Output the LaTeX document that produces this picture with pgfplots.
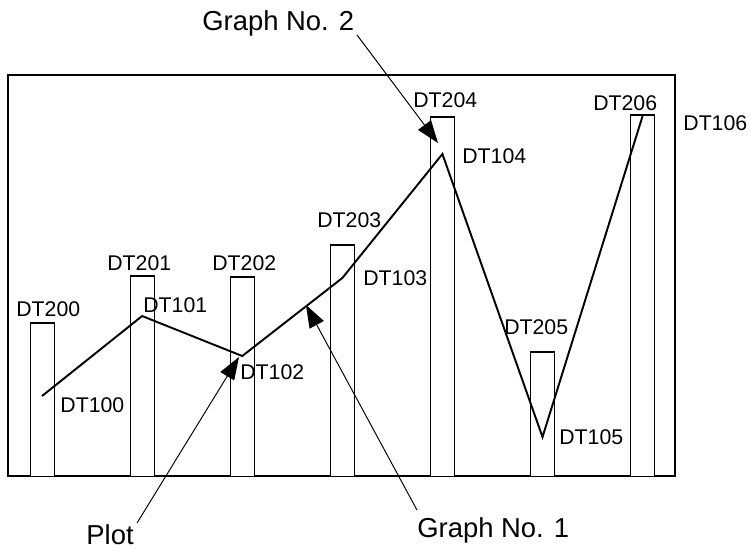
\documentclass[border=0pt]{standalone}
\usepackage{fontspec}
\setmainfont{Liberation Sans}
\usepackage{pgfplots}
\pgfplotsset{compat=1.18}
\usetikzlibrary{arrows.meta}

% bar heights (DT200..DT206) and plotted line (DT100..DT106)
\pgfplotstableread{
x  bar  pt
0  153  80
1  200  160
2  199  120
3  231  198
4  359  322
5  124  39
6  361  360
}\chartdata

\begin{document}
\begin{tikzpicture}[
  dtlab/.style={anchor=base west, inner sep=0pt, font=\fontsize{12.1}{14}\selectfont},
  annlab/.style={anchor=base west, inner sep=0pt, font=\fontsize{15.6}{18}\selectfont},
  pointer/.style={line width=0.55pt, -{Triangle[length=0.45cm,width=0.32cm]}},
]
\begin{axis}[
  scale only axis,
  width=13.34cm, height=8.02cm,
  xmin=-0.340, xmax=6.324,
  ymin=0, ymax=401,
  xtick=\empty, ytick=\empty,
  axis line style={line width=1.1pt},
  clip=false,
]
% keep the whole page at the reference's proportions
\path (axis cs:-0.420,476) rectangle (axis cs:7.073,-73);

\addplot[ybar, bar width=0.24, fill=white, draw=black, line width=0.6pt]
  table[x=x, y=bar] {\chartdata};
\addplot[black, line width=1.1pt, mark=none, sharp plot]
  table[x=x, y=pt] {\chartdata};

% bar labels
\node[dtlab] at (axis cs:-0.260,160) {DT200};
\node[dtlab] at (axis cs:0.649,206) {DT201};
\node[dtlab] at (axis cs:1.698,206) {DT202};
\node[dtlab] at (axis cs:2.747,249) {DT203};
\node[dtlab] at (axis cs:3.706,369) {DT204};
\node[dtlab] at (axis cs:4.615,142) {DT205};
\node[dtlab] at (axis cs:5.504,366) {DT206};
% point labels
\node[dtlab] at (axis cs:0.180,64) {DT100};
\node[dtlab] at (axis cs:1.009,164) {DT101};
\node[dtlab] at (axis cs:1.978,97) {DT102};
\node[dtlab] at (axis cs:3.207,191) {DT103};
\node[dtlab] at (axis cs:4.196,313) {DT104};
\node[dtlab] at (axis cs:5.165,32) {DT105};
\node[dtlab] at (axis cs:6.404,346) {DT106};

% callouts
\node[annlab] at (axis cs:1.598,446) {Graph No. 2};
\draw[pointer] (axis cs:3.147,441) -- (axis cs:3.956,333);
\node[annlab] at (axis cs:0.440,-68) {Plot};
\draw[pointer] (axis cs:0.949,-47) -- (axis cs:1.968,119);
\node[annlab] at (axis cs:3.746,-61) {Graph No. 1};
\draw[pointer] (axis cs:3.746,-34) -- (axis cs:2.637,171);
\end{axis}
\end{tikzpicture}
\end{document}
